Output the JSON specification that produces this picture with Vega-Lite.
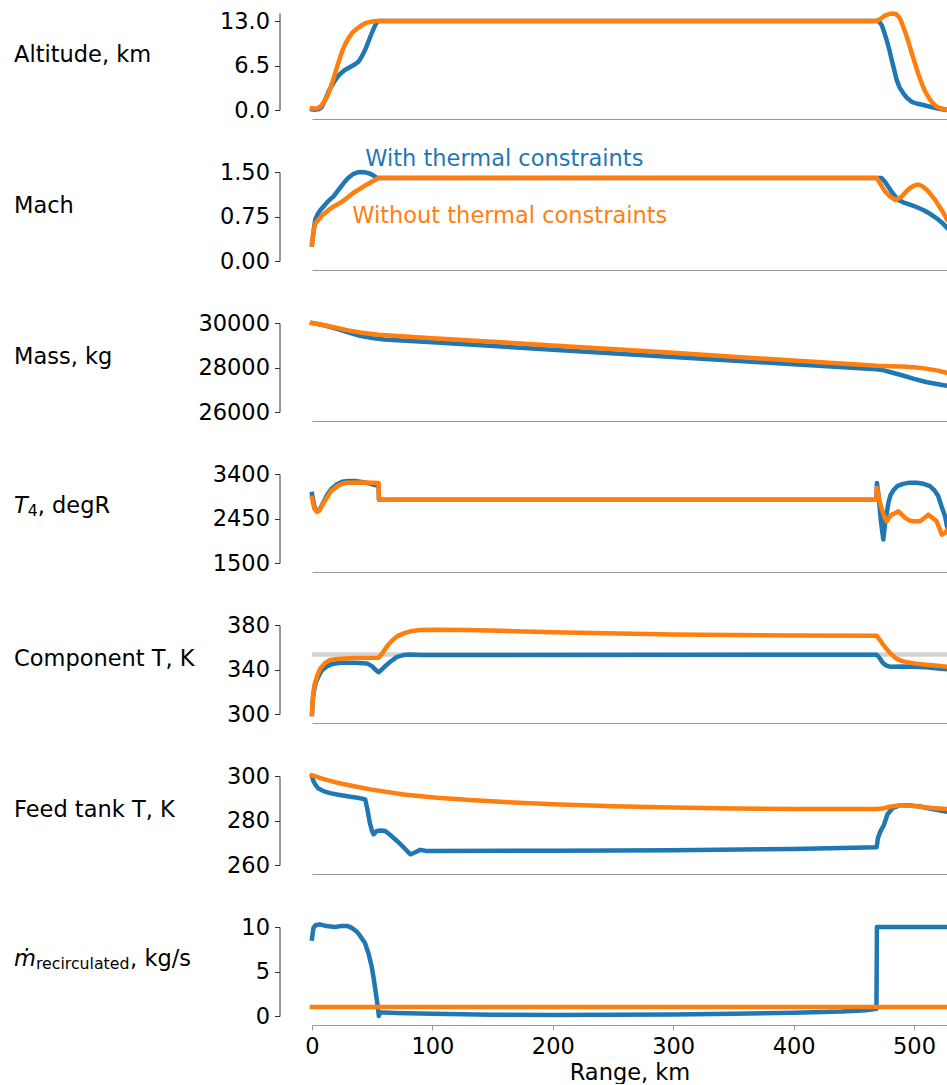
{
  "$schema": "https://vega.github.io/schema/vega-lite/v6.json",
  "padding": {"left": 13, "top": 10, "right": 0, "bottom": 0},
  "background": "white",
  "bounds": "flush",
  "spacing": 62,
  "config": {
    "font": "DejaVu Sans",
    "view": {"stroke": null},
    "line": {"strokeWidth": 4.5, "strokeCap": "square", "strokeJoin": "round"},
    "axis": {"grid": false, "labelFontSize": 22.5, "titleFontSize": 22.5, "labelColor": "#000", "titleColor": "#000", "titleFontWeight": "normal", "tickWidth": 1, "domainWidth": 1, "tickSize": 5, "labelPadding": 5},
    "axisY": {"offset": 32.5, "domainColor": "#333", "tickColor": "#333", "titleAngle": 0, "titleAlign": "left", "titleBaseline": "alphabetic", "titleX": -266, "titleY": 40},
    "axisX": {"offset": 9, "domainColor": "#999", "tickColor": "#999", "labelFlush": false, "domainWidth": 1.2}
  },
  "datasets": {
    "ann": [
      {"p": "mach", "s": "w", "x": 44.2, "y": 1.595, "label": "With thermal constraints"},
      {"p": "mach", "s": "o", "x": 33.4, "y": 0.635, "label": "Without thermal constraints"}
    ],
    "main": [
      {"p":"alt","s":"w","x":0,"y":0.1},{"p":"alt","s":"w","x":3,"y":0.05},{"p":"alt","s":"w","x":6,"y":0.15},{"p":"alt","s":"w","x":8,"y":0.4},{"p":"alt","s":"w","x":11,"y":1.5},{"p":"alt","s":"w","x":14,"y":2.8},{"p":"alt","s":"w","x":18,"y":4.0},{"p":"alt","s":"w","x":21,"y":4.8},{"p":"alt","s":"w","x":23.5,"y":5.3},{"p":"alt","s":"w","x":27,"y":5.8},{"p":"alt","s":"w","x":31,"y":6.2},{"p":"alt","s":"w","x":35,"y":6.6},{"p":"alt","s":"w","x":38.7,"y":7.06},{"p":"alt","s":"w","x":41,"y":7.7},{"p":"alt","s":"w","x":44.2,"y":8.8},{"p":"alt","s":"w","x":46,"y":9.6},{"p":"alt","s":"w","x":48.4,"y":10.7},{"p":"alt","s":"w","x":50.5,"y":11.6},{"p":"alt","s":"w","x":52.5,"y":12.4},{"p":"alt","s":"w","x":54,"y":12.8},{"p":"alt","s":"w","x":55.3,"y":13.0},{"p":"alt","s":"w","x":60,"y":13},{"p":"alt","s":"w","x":469,"y":13},{"p":"alt","s":"w","x":471,"y":12.9},{"p":"alt","s":"w","x":473.2,"y":12.4},{"p":"alt","s":"w","x":475,"y":11.5},{"p":"alt","s":"w","x":477.3,"y":10.2},{"p":"alt","s":"w","x":479.5,"y":8.8},{"p":"alt","s":"w","x":481.5,"y":7.3},{"p":"alt","s":"w","x":483.5,"y":5.9},{"p":"alt","s":"w","x":485.6,"y":4.4},{"p":"alt","s":"w","x":488,"y":3.3},{"p":"alt","s":"w","x":491.1,"y":2.44},{"p":"alt","s":"w","x":494,"y":1.8},{"p":"alt","s":"w","x":498.1,"y":1.2},{"p":"alt","s":"w","x":502,"y":0.95},{"p":"alt","s":"w","x":507.7,"y":0.73},{"p":"alt","s":"w","x":513,"y":0.5},{"p":"alt","s":"w","x":518.8,"y":0.25},{"p":"alt","s":"w","x":523,"y":0.1},{"p":"alt","s":"w","x":527.4,"y":0.02},
      {"p":"alt","s":"o","x":0,"y":0.25},{"p":"alt","s":"o","x":3,"y":0.2},{"p":"alt","s":"o","x":5,"y":0.3},{"p":"alt","s":"o","x":7,"y":0.5},{"p":"alt","s":"o","x":10,"y":1.2},{"p":"alt","s":"o","x":12.5,"y":1.9},{"p":"alt","s":"o","x":14.5,"y":2.8},{"p":"alt","s":"o","x":16.6,"y":3.9},{"p":"alt","s":"o","x":18.7,"y":5.1},{"p":"alt","s":"o","x":20.8,"y":6.3},{"p":"alt","s":"o","x":22.8,"y":7.4},{"p":"alt","s":"o","x":24.9,"y":8.5},{"p":"alt","s":"o","x":27.5,"y":9.6},{"p":"alt","s":"o","x":30.4,"y":10.5},{"p":"alt","s":"o","x":33.5,"y":11.3},{"p":"alt","s":"o","x":37.4,"y":11.9},{"p":"alt","s":"o","x":41.5,"y":12.4},{"p":"alt","s":"o","x":45.7,"y":12.77},{"p":"alt","s":"o","x":50,"y":12.93},{"p":"alt","s":"o","x":54,"y":13},{"p":"alt","s":"o","x":469,"y":13},{"p":"alt","s":"o","x":472,"y":13.3},{"p":"alt","s":"o","x":475,"y":13.7},{"p":"alt","s":"o","x":477.3,"y":13.9},{"p":"alt","s":"o","x":480,"y":14.05},{"p":"alt","s":"o","x":482.8,"y":14.1},{"p":"alt","s":"o","x":485,"y":14.0},{"p":"alt","s":"o","x":487,"y":13.7},{"p":"alt","s":"o","x":489,"y":13.1},{"p":"alt","s":"o","x":491,"y":12.2},{"p":"alt","s":"o","x":493,"y":11.2},{"p":"alt","s":"o","x":495.3,"y":10},{"p":"alt","s":"o","x":498,"y":8.4},{"p":"alt","s":"o","x":500.8,"y":6.8},{"p":"alt","s":"o","x":503.5,"y":5.3},{"p":"alt","s":"o","x":506.4,"y":3.9},{"p":"alt","s":"o","x":509,"y":2.8},{"p":"alt","s":"o","x":511.9,"y":1.9},{"p":"alt","s":"o","x":515,"y":1.1},{"p":"alt","s":"o","x":518.8,"y":0.5},{"p":"alt","s":"o","x":522,"y":0.25},{"p":"alt","s":"o","x":527.4,"y":0.05},
      {"p":"mach","s":"w","x":0,"y":0.28},{"p":"mach","s":"w","x":1,"y":0.45},{"p":"mach","s":"w","x":2.7,"y":0.7},{"p":"mach","s":"w","x":5,"y":0.8},{"p":"mach","s":"w","x":7,"y":0.86},{"p":"mach","s":"w","x":9.6,"y":0.92},{"p":"mach","s":"w","x":13,"y":1.0},{"p":"mach","s":"w","x":17.9,"y":1.09},{"p":"mach","s":"w","x":22,"y":1.2},{"p":"mach","s":"w","x":26.2,"y":1.31},{"p":"mach","s":"w","x":30,"y":1.4},{"p":"mach","s":"w","x":34.5,"y":1.47},{"p":"mach","s":"w","x":38,"y":1.495},{"p":"mach","s":"w","x":41.5,"y":1.5},{"p":"mach","s":"w","x":45,"y":1.49},{"p":"mach","s":"w","x":48.4,"y":1.47},{"p":"mach","s":"w","x":51,"y":1.44},{"p":"mach","s":"w","x":54,"y":1.4},{"p":"mach","s":"w","x":60,"y":1.4},{"p":"mach","s":"w","x":469,"y":1.4},{"p":"mach","s":"w","x":473,"y":1.4},{"p":"mach","s":"w","x":476,"y":1.33},{"p":"mach","s":"w","x":480.3,"y":1.2},{"p":"mach","s":"w","x":484,"y":1.1},{"p":"mach","s":"w","x":487,"y":1.03},{"p":"mach","s":"w","x":491,"y":0.99},{"p":"mach","s":"w","x":496.7,"y":0.95},{"p":"mach","s":"w","x":502,"y":0.91},{"p":"mach","s":"w","x":507.7,"y":0.86},{"p":"mach","s":"w","x":513,"y":0.8},{"p":"mach","s":"w","x":518.8,"y":0.72},{"p":"mach","s":"w","x":523,"y":0.65},{"p":"mach","s":"w","x":527.4,"y":0.56},
      {"p":"mach","s":"o","x":0,"y":0.28},{"p":"mach","s":"o","x":1.3,"y":0.53},{"p":"mach","s":"o","x":3,"y":0.64},{"p":"mach","s":"o","x":5.5,"y":0.7},{"p":"mach","s":"o","x":9,"y":0.78},{"p":"mach","s":"o","x":13.8,"y":0.86},{"p":"mach","s":"o","x":18,"y":0.92},{"p":"mach","s":"o","x":23.5,"y":0.98},{"p":"mach","s":"o","x":29,"y":1.06},{"p":"mach","s":"o","x":34.5,"y":1.15},{"p":"mach","s":"o","x":40,"y":1.22},{"p":"mach","s":"o","x":45.6,"y":1.29},{"p":"mach","s":"o","x":50,"y":1.34},{"p":"mach","s":"o","x":55.3,"y":1.4},{"p":"mach","s":"o","x":469,"y":1.4},{"p":"mach","s":"o","x":472,"y":1.3},{"p":"mach","s":"o","x":476,"y":1.17},{"p":"mach","s":"o","x":480,"y":1.09},{"p":"mach","s":"o","x":484.4,"y":1.03},{"p":"mach","s":"o","x":487,"y":1.05},{"p":"mach","s":"o","x":490,"y":1.09},{"p":"mach","s":"o","x":493,"y":1.16},{"p":"mach","s":"o","x":496.7,"y":1.23},{"p":"mach","s":"o","x":500,"y":1.27},{"p":"mach","s":"o","x":503.6,"y":1.29},{"p":"mach","s":"o","x":507,"y":1.26},{"p":"mach","s":"o","x":510.6,"y":1.2},{"p":"mach","s":"o","x":514,"y":1.12},{"p":"mach","s":"o","x":517.5,"y":1.03},{"p":"mach","s":"o","x":520,"y":0.95},{"p":"mach","s":"o","x":523,"y":0.86},{"p":"mach","s":"o","x":527.4,"y":0.7},
      {"p":"mass","s":"w","x":0,"y":30000},{"p":"mass","s":"w","x":10,"y":29900},{"p":"mass","s":"w","x":20,"y":29750},{"p":"mass","s":"w","x":30,"y":29580},{"p":"mass","s":"w","x":40,"y":29420},{"p":"mass","s":"w","x":50,"y":29320},{"p":"mass","s":"w","x":60,"y":29260},{"p":"mass","s":"w","x":100,"y":29130},{"p":"mass","s":"w","x":200,"y":28800},{"p":"mass","s":"w","x":300,"y":28470},{"p":"mass","s":"w","x":400,"y":28150},{"p":"mass","s":"w","x":469,"y":27920},{"p":"mass","s":"w","x":475,"y":27870},{"p":"mass","s":"w","x":480,"y":27800},{"p":"mass","s":"w","x":490,"y":27650},{"p":"mass","s":"w","x":500,"y":27490},{"p":"mass","s":"w","x":510,"y":27350},{"p":"mass","s":"w","x":520,"y":27250},{"p":"mass","s":"w","x":527.4,"y":27180},
      {"p":"mass","s":"o","x":0,"y":30000},{"p":"mass","s":"o","x":10,"y":29900},{"p":"mass","s":"o","x":20,"y":29790},{"p":"mass","s":"o","x":30,"y":29670},{"p":"mass","s":"o","x":40,"y":29570},{"p":"mass","s":"o","x":55,"y":29470},{"p":"mass","s":"o","x":100,"y":29320},{"p":"mass","s":"o","x":200,"y":28990},{"p":"mass","s":"o","x":300,"y":28660},{"p":"mass","s":"o","x":400,"y":28310},{"p":"mass","s":"o","x":469,"y":28080},{"p":"mass","s":"o","x":480,"y":28060},{"p":"mass","s":"o","x":490,"y":28040},{"p":"mass","s":"o","x":500,"y":28010},{"p":"mass","s":"o","x":510,"y":27950},{"p":"mass","s":"o","x":520,"y":27860},{"p":"mass","s":"o","x":527.4,"y":27760},
      {"p":"t4","s":"w","x":0,"y":2974},{"p":"t4","s":"w","x":2,"y":2700},{"p":"t4","s":"w","x":4.1,"y":2600},{"p":"t4","s":"w","x":6,"y":2620},{"p":"t4","s":"w","x":9,"y":2770},{"p":"t4","s":"w","x":12.5,"y":2950},{"p":"t4","s":"w","x":16,"y":3080},{"p":"t4","s":"w","x":20.8,"y":3180},{"p":"t4","s":"w","x":25,"y":3235},{"p":"t4","s":"w","x":30,"y":3250},{"p":"t4","s":"w","x":36,"y":3250},{"p":"t4","s":"w","x":42.8,"y":3225},{"p":"t4","s":"w","x":48,"y":3195},{"p":"t4","s":"w","x":54,"y":3155},{"p":"t4","s":"w","x":55.3,"y":3150},{"p":"t4","s":"w","x":55.6,"y":2852},{"p":"t4","s":"w","x":468.8,"y":2852},{"p":"t4","s":"w","x":469.2,"y":3210},{"p":"t4","s":"w","x":470.5,"y":2950},{"p":"t4","s":"w","x":472.5,"y":2400},{"p":"t4","s":"w","x":474.5,"y":2000},{"p":"t4","s":"w","x":476,"y":2350},{"p":"t4","s":"w","x":478.7,"y":2782},{"p":"t4","s":"w","x":480.5,"y":2950},{"p":"t4","s":"w","x":482.8,"y":3050},{"p":"t4","s":"w","x":486,"y":3140},{"p":"t4","s":"w","x":491,"y":3190},{"p":"t4","s":"w","x":496,"y":3215},{"p":"t4","s":"w","x":502,"y":3215},{"p":"t4","s":"w","x":508,"y":3190},{"p":"t4","s":"w","x":513.3,"y":3140},{"p":"t4","s":"w","x":517,"y":3050},{"p":"t4","s":"w","x":520.2,"y":2923},{"p":"t4","s":"w","x":523,"y":2700},{"p":"t4","s":"w","x":525.8,"y":2496},{"p":"t4","s":"w","x":527.4,"y":2283},
      {"p":"t4","s":"o","x":0,"y":2890},{"p":"t4","s":"o","x":2,"y":2660},{"p":"t4","s":"o","x":4.1,"y":2590},{"p":"t4","s":"o","x":6,"y":2620},{"p":"t4","s":"o","x":9,"y":2750},{"p":"t4","s":"o","x":12.5,"y":2900},{"p":"t4","s":"o","x":16,"y":3040},{"p":"t4","s":"o","x":20.8,"y":3136},{"p":"t4","s":"o","x":25,"y":3190},{"p":"t4","s":"o","x":29,"y":3215},{"p":"t4","s":"o","x":42.8,"y":3221},{"p":"t4","s":"o","x":50,"y":3215},{"p":"t4","s":"o","x":55.3,"y":3210},{"p":"t4","s":"o","x":55.6,"y":2852},{"p":"t4","s":"o","x":468.8,"y":2852},{"p":"t4","s":"o","x":469.2,"y":3100},{"p":"t4","s":"o","x":471.7,"y":2782},{"p":"t4","s":"o","x":474.5,"y":2550},{"p":"t4","s":"o","x":477.3,"y":2390},{"p":"t4","s":"o","x":479.5,"y":2480},{"p":"t4","s":"o","x":481.5,"y":2532},{"p":"t4","s":"o","x":484,"y":2560},{"p":"t4","s":"o","x":487,"y":2603},{"p":"t4","s":"o","x":490,"y":2530},{"p":"t4","s":"o","x":492.6,"y":2462},{"p":"t4","s":"o","x":496,"y":2410},{"p":"t4","s":"o","x":499.4,"y":2390},{"p":"t4","s":"o","x":505,"y":2390},{"p":"t4","s":"o","x":508,"y":2450},{"p":"t4","s":"o","x":511.9,"y":2532},{"p":"t4","s":"o","x":515,"y":2470},{"p":"t4","s":"o","x":518.8,"y":2390},{"p":"t4","s":"o","x":521,"y":2250},{"p":"t4","s":"o","x":523,"y":2106},{"p":"t4","s":"o","x":525.8,"y":2142},{"p":"t4","s":"o","x":527.4,"y":2200},
      {"p":"comp","s":"lim","x":0,"y":353.5},{"p":"comp","s":"lim","x":527.4,"y":353.5},
      {"p":"comp","s":"w","x":0,"y":300},{"p":"comp","s":"w","x":0.5,"y":310},{"p":"comp","s":"w","x":1.3,"y":319},{"p":"comp","s":"w","x":3,"y":328},{"p":"comp","s":"w","x":5.5,"y":334},{"p":"comp","s":"w","x":8,"y":339},{"p":"comp","s":"w","x":12.5,"y":343},{"p":"comp","s":"w","x":17,"y":345},{"p":"comp","s":"w","x":23.5,"y":346},{"p":"comp","s":"w","x":35,"y":346},{"p":"comp","s":"w","x":45.7,"y":345.5},{"p":"comp","s":"w","x":49.8,"y":343},{"p":"comp","s":"w","x":53,"y":339.5},{"p":"comp","s":"w","x":55.3,"y":337.5},{"p":"comp","s":"w","x":58,"y":340},{"p":"comp","s":"w","x":60.8,"y":343},{"p":"comp","s":"w","x":65,"y":347},{"p":"comp","s":"w","x":70.6,"y":351.3},{"p":"comp","s":"w","x":76,"y":353},{"p":"comp","s":"w","x":81.6,"y":353.4},{"p":"comp","s":"w","x":90,"y":353},{"p":"comp","s":"w","x":469,"y":353.3},{"p":"comp","s":"w","x":471,"y":351},{"p":"comp","s":"w","x":474,"y":346},{"p":"comp","s":"w","x":477,"y":343.5},{"p":"comp","s":"w","x":480,"y":342.5},{"p":"comp","s":"w","x":490,"y":342.8},{"p":"comp","s":"w","x":500,"y":342.5},{"p":"comp","s":"w","x":510,"y":342},{"p":"comp","s":"w","x":520,"y":341},{"p":"comp","s":"w","x":527.4,"y":340.3},
      {"p":"comp","s":"o","x":0,"y":300},{"p":"comp","s":"o","x":0.4,"y":310},{"p":"comp","s":"o","x":0.8,"y":316},{"p":"comp","s":"o","x":2,"y":326},{"p":"comp","s":"o","x":4.2,"y":334},{"p":"comp","s":"o","x":7,"y":341},{"p":"comp","s":"o","x":11,"y":346},{"p":"comp","s":"o","x":15,"y":348.5},{"p":"comp","s":"o","x":20.8,"y":349.5},{"p":"comp","s":"o","x":34.5,"y":350.4},{"p":"comp","s":"o","x":55.3,"y":350.6},{"p":"comp","s":"o","x":58,"y":354},{"p":"comp","s":"o","x":62.3,"y":360.8},{"p":"comp","s":"o","x":66,"y":365.5},{"p":"comp","s":"o","x":70.6,"y":369.8},{"p":"comp","s":"o","x":76,"y":372.5},{"p":"comp","s":"o","x":81.6,"y":374.3},{"p":"comp","s":"o","x":90,"y":375.5},{"p":"comp","s":"o","x":100,"y":375.8},{"p":"comp","s":"o","x":130,"y":375.5},{"p":"comp","s":"o","x":200,"y":373.5},{"p":"comp","s":"o","x":300,"y":371.5},{"p":"comp","s":"o","x":400,"y":370.6},{"p":"comp","s":"o","x":469,"y":370.4},{"p":"comp","s":"o","x":472,"y":366},{"p":"comp","s":"o","x":476,"y":360},{"p":"comp","s":"o","x":480,"y":355},{"p":"comp","s":"o","x":485,"y":350},{"p":"comp","s":"o","x":490,"y":347.5},{"p":"comp","s":"o","x":500,"y":345.5},{"p":"comp","s":"o","x":510,"y":344.3},{"p":"comp","s":"o","x":520,"y":343.3},{"p":"comp","s":"o","x":527.4,"y":342.5},
      {"p":"feed","s":"w","x":0,"y":300},{"p":"feed","s":"w","x":1,"y":298},{"p":"feed","s":"w","x":2.7,"y":296.2},{"p":"feed","s":"w","x":5,"y":294.5},{"p":"feed","s":"w","x":9.6,"y":293.2},{"p":"feed","s":"w","x":15,"y":292.3},{"p":"feed","s":"w","x":20.8,"y":291.7},{"p":"feed","s":"w","x":31.8,"y":290.7},{"p":"feed","s":"w","x":38,"y":290.2},{"p":"feed","s":"w","x":44.2,"y":289.5},{"p":"feed","s":"w","x":46,"y":285},{"p":"feed","s":"w","x":48,"y":279},{"p":"feed","s":"w","x":50,"y":275},{"p":"feed","s":"w","x":51.1,"y":273.8},{"p":"feed","s":"w","x":53.9,"y":275.3},{"p":"feed","s":"w","x":57,"y":275.5},{"p":"feed","s":"w","x":60.8,"y":275.3},{"p":"feed","s":"w","x":65,"y":273.5},{"p":"feed","s":"w","x":70.6,"y":270.8},{"p":"feed","s":"w","x":76,"y":268},{"p":"feed","s":"w","x":81.6,"y":264.8},{"p":"feed","s":"w","x":85,"y":265.5},{"p":"feed","s":"w","x":89.9,"y":266.8},{"p":"feed","s":"w","x":95,"y":266.3},{"p":"feed","s":"w","x":200,"y":266.4},{"p":"feed","s":"w","x":300,"y":266.6},{"p":"feed","s":"w","x":400,"y":267.2},{"p":"feed","s":"w","x":450,"y":267.7},{"p":"feed","s":"w","x":469,"y":268},{"p":"feed","s":"w","x":470,"y":272},{"p":"feed","s":"w","x":472,"y":275},{"p":"feed","s":"w","x":475,"y":278},{"p":"feed","s":"w","x":478,"y":282.8},{"p":"feed","s":"w","x":482,"y":285.5},{"p":"feed","s":"w","x":488,"y":286.8},{"p":"feed","s":"w","x":497,"y":286.8},{"p":"feed","s":"w","x":505,"y":286.3},{"p":"feed","s":"w","x":515,"y":285.2},{"p":"feed","s":"w","x":527.4,"y":284},
      {"p":"feed","s":"o","x":0,"y":300.3},{"p":"feed","s":"o","x":10,"y":298.6},{"p":"feed","s":"o","x":20.8,"y":297},{"p":"feed","s":"o","x":35,"y":295.4},{"p":"feed","s":"o","x":48.4,"y":294},{"p":"feed","s":"o","x":76,"y":291.7},{"p":"feed","s":"o","x":103.8,"y":290.2},{"p":"feed","s":"o","x":131.4,"y":289.2},{"p":"feed","s":"o","x":160,"y":288.3},{"p":"feed","s":"o","x":200,"y":287.3},{"p":"feed","s":"o","x":250,"y":286.4},{"p":"feed","s":"o","x":300,"y":285.8},{"p":"feed","s":"o","x":350,"y":285.4},{"p":"feed","s":"o","x":400,"y":285.2},{"p":"feed","s":"o","x":469,"y":285.2},{"p":"feed","s":"o","x":475,"y":285.5},{"p":"feed","s":"o","x":480,"y":286.2},{"p":"feed","s":"o","x":488,"y":286.8},{"p":"feed","s":"o","x":497,"y":286.6},{"p":"feed","s":"o","x":505,"y":286.2},{"p":"feed","s":"o","x":515,"y":285.6},{"p":"feed","s":"o","x":527.4,"y":285.2},
      {"p":"rec","s":"w","x":0,"y":8.7},{"p":"rec","s":"w","x":1.2,"y":9.9},{"p":"rec","s":"w","x":3,"y":10.2},{"p":"rec","s":"w","x":6.5,"y":10.3},{"p":"rec","s":"w","x":12,"y":10.1},{"p":"rec","s":"w","x":19,"y":10.0},{"p":"rec","s":"w","x":24,"y":10.1},{"p":"rec","s":"w","x":29.8,"y":10.1},{"p":"rec","s":"w","x":33,"y":9.9},{"p":"rec","s":"w","x":37,"y":9.5},{"p":"rec","s":"w","x":40,"y":9.0},{"p":"rec","s":"w","x":44,"y":8.2},{"p":"rec","s":"w","x":47,"y":7.0},{"p":"rec","s":"w","x":49.5,"y":5.6},{"p":"rec","s":"w","x":51.5,"y":4.0},{"p":"rec","s":"w","x":53,"y":2.6},{"p":"rec","s":"w","x":54.5,"y":1.2},{"p":"rec","s":"w","x":55.5,"y":0.0},{"p":"rec","s":"w","x":56.6,"y":0.4},{"p":"rec","s":"w","x":60,"y":0.4},{"p":"rec","s":"w","x":70,"y":0.35},{"p":"rec","s":"w","x":100,"y":0.25},{"p":"rec","s":"w","x":150,"y":0.15},{"p":"rec","s":"w","x":200,"y":0.12},{"p":"rec","s":"w","x":250,"y":0.13},{"p":"rec","s":"w","x":300,"y":0.18},{"p":"rec","s":"w","x":350,"y":0.25},{"p":"rec","s":"w","x":400,"y":0.36},{"p":"rec","s":"w","x":440,"y":0.5},{"p":"rec","s":"w","x":460,"y":0.65},{"p":"rec","s":"w","x":468.8,"y":0.8},{"p":"rec","s":"w","x":469.2,"y":10},{"p":"rec","s":"w","x":527.4,"y":10},
      {"p":"rec","s":"o","x":0,"y":1.0},{"p":"rec","s":"o","x":527.4,"y":1.0}
    ]
  },
  "data": {"name": "main"},
  "vconcat": [
    {
      "width": 635, "height": 97,
      "transform": [{"filter": "datum.p == 'alt'"}],
      "encoding": {
        "x": {"field": "x", "type": "quantitative", "scale": {"domain": [0, 527.4], "nice": false, "zero": false}, "axis": {"title": null, "labels": false, "ticks": false}},
        "y": {"field": "y", "type": "quantitative", "scale": {"domain": [0, 14.17], "nice": false, "zero": false}, "axis": {"values": [0, 6.5, 13], "format": ".1f", "title": "Altitude, km", "titleY": 48}}
      },
      "layer": [
        {"transform": [{"filter": "datum.s == 'w'"}], "mark": {"type": "line", "color": "#1f77b4"}},
        {"transform": [{"filter": "datum.s == 'o'"}], "mark": {"type": "line", "color": "#ff7f0e"}}
      ]
    },
    {
      "width": 635, "height": 89,
      "transform": [{"filter": "datum.p == 'mach'"}],
      "encoding": {
        "x": {"field": "x", "type": "quantitative", "scale": {"domain": [0, 527.4], "nice": false, "zero": false}, "axis": {"title": null, "labels": false, "ticks": false}},
        "y": {"field": "y", "type": "quantitative", "scale": {"domain": [0, 1.5], "nice": false, "zero": false}, "axis": {"values": [0, 0.75, 1.5], "format": ".2f", "title": "Mach"}}
      },
      "layer": [
        {"transform": [{"filter": "datum.s == 'w'"}], "mark": {"type": "line", "color": "#1f77b4"}},
        {"transform": [{"filter": "datum.s == 'o'"}], "mark": {"type": "line", "color": "#ff7f0e"}},
        {"data": {"name": "ann"}, "mark": {"type": "text", "align": "left", "baseline": "alphabetic", "fontSize": 22.5},
         "encoding": {"text": {"field": "label"}, "color": {"field": "s", "type": "nominal", "scale": {"domain": ["w", "o"], "range": ["#1f77b4", "#ff7f0e"]}, "legend": null}}}
      ]
    },
    {
      "width": 635, "height": 89,
      "transform": [{"filter": "datum.p == 'mass'"}],
      "encoding": {
        "x": {"field": "x", "type": "quantitative", "scale": {"domain": [0, 527.4], "nice": false, "zero": false}, "axis": {"title": null, "labels": false, "ticks": false}},
        "y": {"field": "y", "type": "quantitative", "scale": {"domain": [26000, 30000], "nice": false, "zero": false}, "axis": {"values": [26000, 28000, 30000], "format": "d", "title": "Mass, kg"}}
      },
      "layer": [
        {"transform": [{"filter": "datum.s == 'w'"}], "mark": {"type": "line", "color": "#1f77b4"}},
        {"transform": [{"filter": "datum.s == 'o'"}], "mark": {"type": "line", "color": "#ff7f0e"}}
      ]
    },
    {
      "width": 635, "height": 89,
      "transform": [{"filter": "datum.p == 't4'"}],
      "encoding": {
        "x": {"field": "x", "type": "quantitative", "scale": {"domain": [0, 527.4], "nice": false, "zero": false}, "axis": {"title": null, "labels": false, "ticks": false}}
      },
      "resolve": {"scale": {"y": "independent"}},
      "layer": [
        {"transform": [{"filter": "datum.s == 'w'"}], "mark": {"type": "line", "color": "#1f77b4"},
         "encoding": {"y": {"field": "y", "type": "quantitative", "scale": {"domain": [1500, 3400], "nice": false, "zero": false}, "axis": {"orient": "left", "values": [1500, 2450, 3400], "format": "d", "title": "T", "titleFontStyle": "italic", "titleY": 38}}}},
        {"transform": [{"filter": "datum.s == 'o'"}], "mark": {"type": "line", "color": "#ff7f0e"},
         "encoding": {"y": {"field": "y", "type": "quantitative", "scale": {"domain": [1500, 3400], "nice": false, "zero": false}, "axis": null}}},
        {"mark": {"type": "line", "opacity": 0},
         "encoding": {"y": {"field": "y", "type": "quantitative", "scale": {"domain": [1500, 3400], "nice": false, "zero": false}, "axis": {"orient": "left", "domain": false, "ticks": false, "labels": false, "title": "4", "titleFontSize": 15.75, "titleX": -252.25, "titleY": 41}}}},
        {"mark": {"type": "line", "opacity": 0},
         "encoding": {"y": {"field": "y", "type": "quantitative", "scale": {"domain": [1500, 3400], "nice": false, "zero": false}, "axis": {"orient": "left", "domain": false, "ticks": false, "labels": false, "title": ", degR", "titleX": -242.25, "titleY": 38}}}}
      ]
    },
    {
      "width": 635, "height": 89,
      "transform": [{"filter": "datum.p == 'comp'"}],
      "encoding": {
        "x": {"field": "x", "type": "quantitative", "scale": {"domain": [0, 527.4], "nice": false, "zero": false}, "axis": {"title": null, "labels": false, "ticks": false}},
        "y": {"field": "y", "type": "quantitative", "scale": {"domain": [300, 380], "nice": false, "zero": false}, "axis": {"values": [300, 340, 380], "format": "d", "title": "Component T, K"}}
      },
      "layer": [
        {"transform": [{"filter": "datum.s == 'lim'"}], "mark": {"type": "line", "color": "#d3d3d3", "strokeCap": "butt"}},
        {"transform": [{"filter": "datum.s == 'w'"}], "mark": {"type": "line", "color": "#1f77b4"}},
        {"transform": [{"filter": "datum.s == 'o'"}], "mark": {"type": "line", "color": "#ff7f0e"}}
      ]
    },
    {
      "width": 635, "height": 89,
      "transform": [{"filter": "datum.p == 'feed'"}],
      "encoding": {
        "x": {"field": "x", "type": "quantitative", "scale": {"domain": [0, 527.4], "nice": false, "zero": false}, "axis": {"title": null, "labels": false, "ticks": false}},
        "y": {"field": "y", "type": "quantitative", "scale": {"domain": [260, 300], "nice": false, "zero": false}, "axis": {"values": [260, 280, 300], "format": "d", "title": "Feed tank T, K"}}
      },
      "layer": [
        {"transform": [{"filter": "datum.s == 'w'"}], "mark": {"type": "line", "color": "#1f77b4"}},
        {"transform": [{"filter": "datum.s == 'o'"}], "mark": {"type": "line", "color": "#ff7f0e"}}
      ]
    },
    {
      "width": 635, "height": 89,
      "transform": [{"filter": "datum.p == 'rec'"}],
      "encoding": {
        "x": {"field": "x", "type": "quantitative", "scale": {"domain": [0, 527.4], "nice": false, "zero": false}, "axis": {"title": "Range, km", "values": [0, 100, 200, 300, 400, 500], "format": "d"}}
      },
      "resolve": {"scale": {"y": "independent"}},
      "layer": [
        {"transform": [{"filter": "datum.s == 'w'"}], "mark": {"type": "line", "color": "#1f77b4"},
         "encoding": {"y": {"field": "y", "type": "quantitative", "scale": {"domain": [0, 10], "nice": false, "zero": false}, "axis": {"orient": "left", "values": [0, 5, 10], "format": "d", "title": "ṁ", "titleFontStyle": "italic", "titleY": 38}}}},
        {"transform": [{"filter": "datum.s == 'o'"}], "mark": {"type": "line", "color": "#ff7f0e"},
         "encoding": {"y": {"field": "y", "type": "quantitative", "scale": {"domain": [0, 10], "nice": false, "zero": false}, "axis": null}}},
        {"mark": {"type": "line", "opacity": 0},
         "encoding": {"y": {"field": "y", "type": "quantitative", "scale": {"domain": [0, 10], "nice": false, "zero": false}, "axis": {"orient": "left", "domain": false, "ticks": false, "labels": false, "title": "recirculated", "titleFontSize": 15.75, "titleX": -244.1, "titleY": 41.5}}}},
        {"mark": {"type": "line", "opacity": 0},
         "encoding": {"y": {"field": "y", "type": "quantitative", "scale": {"domain": [0, 10], "nice": false, "zero": false}, "axis": {"orient": "left", "domain": false, "ticks": false, "labels": false, "title": ", kg/s", "titleX": -149.9, "titleY": 38}}}}
      ]
    }
  ]
}
